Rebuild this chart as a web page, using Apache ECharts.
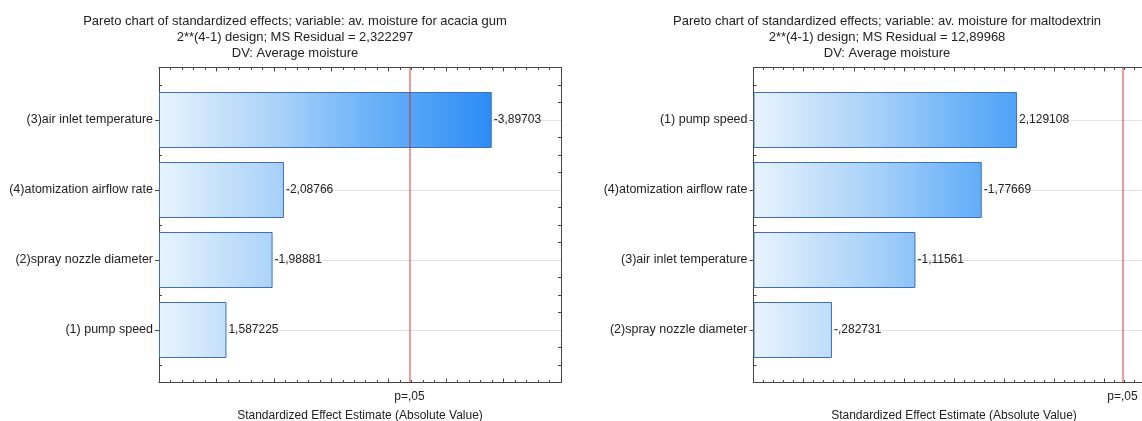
<!DOCTYPE html>
<html><head><meta charset="utf-8">
<script src="https://cdn.jsdelivr.net/npm/echarts@6/dist/echarts.min.js"></script>
<style>html,body{margin:0;padding:0;background:#fff}#c{width:1142px;height:421px}</style>
</head><body><div id="c"></div>
<script>
// ---- data ----
const leftTitle = ['Pareto chart of standardized effects; variable: av. moisture for acacia gum', '2**(4-1) design; MS Residual = 2,322297', 'DV: Average moisture'];
const leftCats = ['(3)air inlet temperature', '(4)atomization airflow rate', '(2)spray nozzle diameter', '(1) pump speed'];
const leftEffects = [-3.89703, -2.08766, -1.98881, 1.587225];
const leftAxis = [1, 4.5, 0.5];          // min, max, major step

const rightTitle = ['Pareto chart of standardized effects; variable: av. moisture for maltodextrin', '2**(4-1) design; MS Residual = 12,89968', 'DV: Average moisture'];
const rightCats = ['(1) pump speed', '(4)atomization airflow rate', '(3)air inlet temperature', '(2)spray nozzle diameter'];
const rightEffects = [2.129108, -1.77669, -1.11561, -0.282731];
const rightAxis = [-0.5, 3.5, 0.5];

const criticalT = 3.182446;   // p = .05
const pLabel = 'p=,05';
const xName = 'Standardized Effect Estimate (Absolute Value)';

// ---- chart ----
const FONT = '"Liberation Sans", Arial, sans-serif';
const TXT = '#222';
const AX = '#444';

function fmt(v) {
  let s = String(v).replace('.', ',');
  return s.replace(/^(-?)0,/, '$1,');
}

const option = { animation: false, backgroundColor: '#fff', title: [], grid: [], xAxis: [], yAxis: [], series: [] };

function addPanel(p) {
  const g = option.grid.length;
  const xi = option.xAxis.length;
  const yi = option.yAxis.length;
  option.title.push({
    text: p.title.join('\n'), left: p.titleX, top: 13, textAlign: 'center', padding: 0,
    textStyle: { fontSize: 13, fontWeight: 'normal', color: TXT, lineHeight: 16, fontFamily: FONT }
  });
  option.grid.push({ left: p.left, top: 67.5, width: p.width, height: 315, containLabel: false, outerBoundsMode: 'none' });
  option.grid.push({ left: p.left, top: 85, width: p.width, height: 280, containLabel: false, outerBoundsMode: 'none' });
  const [mn, mx, st] = p.axis;
  const xBase = {
    type: 'value', gridIndex: g, min: mn, max: mx, interval: st,
    axisLine: { show: true, onZero: false, lineStyle: { color: AX, width: 1 } },
    axisTick: { show: true, inside: true, length: 4, lineStyle: { color: AX } },
    minorTick: { show: true, splitNumber: 5, length: 2.5, lineStyle: { color: AX } },
    axisLabel: { show: false }, splitLine: { show: false }
  };
  option.xAxis.push(Object.assign({}, xBase, {
    position: 'bottom', name: xName, nameLocation: 'middle', nameGap: 27,
    nameTextStyle: { fontSize: 12, color: TXT, fontFamily: FONT }
  }));
  option.xAxis.push(Object.assign({}, xBase, { position: 'top' }));
  option.xAxis.push({ type: 'value', gridIndex: g + 1, min: mn, max: mx, startValue: mn, show: false });
  const yBase = {
    type: 'value', gridIndex: g, min: -0.75, max: 3.75, interval: 0.25, inverse: true,
    axisLine: { show: true, onZero: false, lineStyle: { color: AX, width: 1 } },
    axisTick: { show: true, inside: true, length: 3, lineStyle: { color: AX } },
    axisLabel: { show: false }, splitLine: { show: false }
  };
  option.yAxis.push(Object.assign({}, yBase, { position: 'left' }));
  option.yAxis.push(Object.assign({}, yBase, { position: 'right' }));
  option.yAxis.push({
    type: 'category', gridIndex: g + 1, data: p.cats, inverse: true,
    axisLine: { show: false, onZero: false },
    axisTick: { show: true, alignWithLabel: true, length: 4, lineStyle: { color: AX } },
    axisLabel: { fontSize: 12.5, color: TXT, margin: 6, fontFamily: FONT },
    splitLine: { show: false }
  });
  const grad = new echarts.graphic.LinearGradient(p.left, 0, p.left + p.width, 0, [
    { offset: 0, color: '#e8f4fe' },
    { offset: 0.17, color: '#c3dffa' },
    { offset: 0.31, color: '#a6d0f9' },
    { offset: 0.5, color: '#72b6f8' },
    { offset: 0.66, color: '#4ea2f7' },
    { offset: 0.83, color: '#2c8bf5' },
    { offset: 1, color: '#1a7ef3' }
  ], true);
  // grid lines (under bars)
  option.series.push({
    type: 'line', xAxisIndex: xi, yAxisIndex: yi, data: [], z: 1,
    markLine: {
      silent: true, symbol: 'none', z: 1, animation: false,
      label: { show: false },
      lineStyle: { color: '#e2e2e2', width: 1, type: 'solid' },
      data: p.cats.map((c, i) => ({ yAxis: i }))
    }
  });
  option.series.push({
    type: 'bar', xAxisIndex: xi + 2, yAxisIndex: yi + 2, z: 3, clip: true,
    data: p.effects.map(v => Math.abs(v)), barWidth: '80%',
    itemStyle: { color: grad, borderColor: '#3f6fba', borderWidth: 1 },
    label: {
      show: true, position: 'right', distance: 2, fontSize: 12, color: TXT, fontFamily: FONT,
      formatter: (q) => fmt(p.effects[q.dataIndex])
    }
  });
  // critical value line
  option.series.push({
    type: 'line', xAxisIndex: xi, yAxisIndex: yi, data: [], z: 6,
    markLine: {
      silent: true, symbol: 'none', z: 6, animation: false,
      lineStyle: { color: 'rgba(224,30,30,0.6)', width: 1.5, type: 'solid' },
      label: { show: true, position: 'end', formatter: pLabel, distance: 8, fontSize: 12, color: TXT, fontFamily: FONT },
      data: [{ xAxis: criticalT }]
    }
  });
}

addPanel({ title: leftTitle, titleX: 295, left: 159, width: 402, axis: leftAxis, cats: leftCats, effects: leftEffects });
addPanel({ title: rightTitle, titleX: 887, left: 753.5, width: 401, axis: rightAxis, cats: rightCats, effects: rightEffects });

const chart = echarts.init(document.getElementById('c'), null, { renderer: 'canvas' });
chart.setOption(option);
</script></body></html>
